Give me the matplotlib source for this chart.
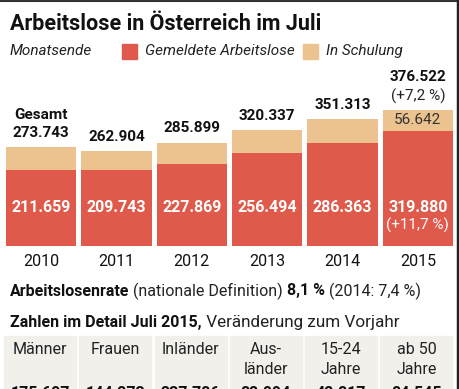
import matplotlib
matplotlib.use('Agg')
import matplotlib.pyplot as plt
from matplotlib.patches import Rectangle

plt.rcParams['font.family'] = ['Roboto', 'DejaVu Sans']

years = ['2010', '2011', '2012', '2013', '2014', '2015']
gemeldet = [211.659, 209.743, 227.869, 256.494, 286.363, 319.880]
gesamt = [273.743, 262.904, 285.899, 320.337, 351.313, 376.522]
schulung = [g - r for g, r in zip(gesamt, gemeldet)]
gemeldet_lbl = ['211.659', '209.743', '227.869', '256.494', '286.363', '319.880']
gesamt_lbl = ['273.743', '262.904', '285.899', '320.337', '351.313', '376.522']

detail_head = ['Männer', 'Frauen', 'Inländer', 'Aus-\nländer', '15-24\nJahre', 'ab 50\nJahre']
detail_vals = ['175.607', '144.273', '237.786', '82.094', '42.817', '84.545']

red = '#e05a4b'
tan = '#ecc38e'
W, H = 460, 389

fig = plt.figure(figsize=(W / 100, H / 100), dpi=100)

# overlay axes in pixel coords (y downward)
bg = fig.add_axes([0, 0, 1, 1])
bg.set_xlim(0, W)
bg.set_ylim(H, 0)
bg.axis('off')

# bar axes: baseline at y=246px, 0.361 px per 1000
base = 246
ax = fig.add_axes([3.5 / W, (H - base) / H, 452 / W, base / H])
ax.set_xlim(-0.5, 5.5)
ax.set_ylim(0, base / 0.361)
ax.axis('off')
x = range(len(years))
ax.bar(x, gemeldet, width=0.93, color=red)
ax.bar(x, schulung, bottom=gemeldet, width=0.93, color=tan)

fs = 11
for i in x:
    ax.text(i, 108, gemeldet_lbl[i], ha='center', va='center',
            fontsize=11.5, fontweight='bold', color='white')
    if i < 5:
        ax.text(i, gesamt[i] + 40, gesamt_lbl[i], ha='center', va='center',
                fontsize=fs, fontweight='bold', color='#111')
    else:
        ax.text(i, gesamt[i] + 92, gesamt_lbl[i], ha='center', va='center',
                fontsize=fs, fontweight='bold', color='#111')
        ax.text(i, gesamt[i] + 39, '(+7,2 %)', ha='center', va='center',
                fontsize=fs, color='#222')
        ax.text(i, gemeldet[i] + schulung[i] / 2, '56.642', ha='center', va='center',
                fontsize=fs, color='#333')
        ax.text(i, 58, '(+11,7 %)', ha='center', va='center',
                fontsize=fs, color='white')
    ax.text(i, -44, years[i], ha='center', va='center', fontsize=11.5, color='#111',
            clip_on=False)
ax.text(0, gesamt[0] + 90, 'Gesamt', ha='center', va='center',
        fontsize=fs, fontweight='bold', color='#111')

# title and legend
bg.text(10, 24, 'Arbeitslose in Österreich im Juli', fontsize=15.5, fontweight='bold',
        va='center', color='#111')
bg.text(10, 51, 'Monatsende', fontsize=11, style='italic', va='center', color='#222')
bg.add_patch(Rectangle((122, 44), 15, 15, color=red))
bg.text(145, 51, 'Gemeldete Arbeitslose', fontsize=11, style='italic', va='center', color='#222')
bg.add_patch(Rectangle((303, 44), 15, 15, color=tan))
bg.text(326, 51, 'In Schulung', fontsize=11, style='italic', va='center', color='#222')

# rate line
t = bg.text(10, 291, 'Arbeitslosenrate', fontsize=11.5, fontweight='bold', va='center', color='#111')
t2 = bg.annotate(' (nationale Definition) ', xycoords=t, xy=(1, 0.5), va='center',
                 fontsize=11.5, color='#222')
t3 = bg.annotate('8,1 %', xycoords=t2, xy=(1, 0.5), va='center', fontsize=11.5,
                 fontweight='bold', color='#111')
bg.annotate(' (2014: 7,4 %)', xycoords=t3, xy=(1, 0.5), va='center', fontsize=11.5, color='#222')

t = bg.text(10, 322, 'Zahlen im Detail Juli 2015,', fontsize=11.5, fontweight='bold',
            va='center', color='#111')
bg.annotate(' Veränderung zum Vorjahr', xycoords=t, xy=(1, 0.5), va='center',
            fontsize=12.3, color='#222')

# detail table
for i, (h, v) in enumerate(zip(detail_head, detail_vals)):
    left = 4 + i * 75.3
    bg.add_patch(Rectangle((left, 336), 72, 60, color='#f1f0eb', zorder=0))
    cx = left + 36
    for j, ln in enumerate(h.split('\n')):
        bg.text(cx, 350 + j * 19, ln, ha='center', va='center', fontsize=11.5, color='#222')
    bg.text(cx, 393, v, ha='center', va='center', fontsize=11.5, fontweight='bold', color='#111')

# frame lines top and right
bg.plot([0, W], [0.7, 0.7], color='#333', lw=1.5)
bg.plot([W - 2, W - 2], [0, H], color='#222', lw=2.5)

fig.savefig('out.png', dpi=100)
